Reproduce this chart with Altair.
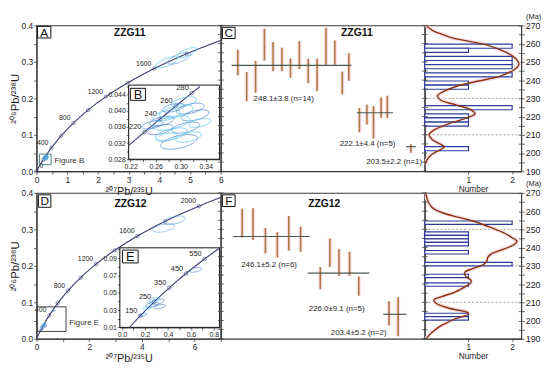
import altair as alt
import pandas as pd

FONT = "Liberation Sans"
INK = "#1e1e1e"
NAVY = "#3a3f6e"
TAN = "#b07a42"
MEANC = "#4a5950"
HISTC = "#2d3c9a"
KDEC = "#8a3410"
HALO = "#f8dde7"
COLS = {"c": "#58c6ea", "b": "#4d84cf", "l": "#6aa9e2"}

WA, WC, WH, HT = 187, 207, 98, 148
KXA = WA / 194.0
KXC = WC / 207.0
KY = HT / 154.0

# ---------------- data ----------------
# Concordia reference curve: age (Ma), 207Pb/235U, 206Pb/238U
CONC_AGE = [0, 100, 200, 300, 400, 500, 600, 700, 800, 900, 1000, 1100, 1200,
            1300, 1400, 1500, 1600, 1700, 1800, 1900, 2000, 2100, 2200]
CONC_X = [0.0, 0.10350, 0.21771, 0.34375, 0.48281, 0.63628, 0.80563, 0.99249,
          1.19873, 1.42629, 1.67740, 1.95452, 2.26030, 2.59774, 2.97008, 3.38099,
          3.83440, 4.33477, 4.88691, 5.49618, 6.16850, 6.91048, 7.72920]
CONC_Y = [0.0, 0.015633, 0.031511, 0.047637, 0.064016, 0.080650, 0.097544,
          0.114703, 0.132130, 0.149831, 0.167811, 0.186063, 0.204599, 0.223437,
          0.242563, 0.261983, 0.281724, 0.301752, 0.322096, 0.342772, 0.363770,
          0.385081, 0.406741]

# inset B segment
B_AGE = [200, 210, 220, 230, 240, 250, 260, 270, 280, 290]
B_X = [0.21771, 0.22976, 0.24193, 0.25422, 0.26664, 0.27917, 0.29183, 0.30462, 0.31753, 0.33057]
B_Y = [0.031511, 0.033113, 0.034717, 0.036323, 0.037932, 0.039543, 0.041157, 0.042773, 0.044392, 0.046014]

# inset E segment
E_AGE = [65, 100, 150, 200, 250, 300, 350, 400, 450, 500, 550, 600, 620]
E_X = [0.06611, 0.10350, 0.15920, 0.21771, 0.27917, 0.34375, 0.41156, 0.48281,
       0.55766, 0.63628, 0.71887, 0.80563, 0.84155]
E_Y = [0.010134, 0.015633, 0.023542, 0.031511, 0.039543, 0.047637, 0.055795,
       0.064016, 0.072300, 0.080650, 0.089064, 0.097544, 0.100954]

# ZZG11 analyses (ellipse centres, width in 207/235 units)
Z11_X = [0.3049, 0.3155, 0.2928, 0.3231, 0.2776, 0.2700, 0.2852, 0.2670,
         0.2852, 0.2973, 0.2776, 0.3079, 0.3306, 0.2549, 0.3125, 0.2882]
Z11_Y = [0.04219, 0.04055, 0.03984, 0.03889, 0.03889, 0.03748, 0.03701, 0.03536,
         0.03419, 0.03231, 0.03348, 0.03584, 0.03701, 0.03654, 0.03348, 0.04078]
Z11_W = [0.042, 0.045, 0.055, 0.045, 0.045, 0.040, 0.060, 0.042,
         0.052, 0.060, 0.034, 0.045, 0.036, 0.034, 0.042, 0.036]
Z11_C = ["c", "b", "c", "b", "c", "b", "c", "b", "c", "b", "c", "b", "c", "b", "c", "b"]
Z11_OX = [4.24, 4.64, 4.89]
Z11_OY = [0.299, 0.310, 0.325]
Z11_OW = [0.75, 0.80, 0.70]

# ZZG12 analyses
Z12_X = [0.2625, 0.304, 0.221, 0.329, 0.180, 0.64, 0.279]
Z12_Y = [0.0362, 0.0395, 0.0329, 0.034, 0.0245, 0.0766, 0.0417]
Z12_W = [0.12, 0.13, 0.08, 0.10, 0.07, 0.11, 0.10]
Z12_C = ["b", "b", "c", "b", "b", "b", "c"]
Z12_OX = [5.23, 4.83]
Z12_OY = [0.325, 0.304]
Z12_OW = [0.85, 0.85]

# weighted-age panels
C_I = [1.92, 2.92, 3.92, 4.92, 5.89, 6.89, 7.86, 8.86, 9.86, 10.86, 11.86, 12.86,
       13.70, 14.44, 15.63, 16.48, 17.22, 18.08, 18.78, 21.44]
C_HI = [256.6, 244.4, 250.5, 268.2, 260.9, 257.8, 251.9, 261.4, 251.7, 251.7, 268.7,
        261.8, 244.7, 254.8, 224.8, 226.5, 225.8, 230.5, 231.4, 204.8]
C_LO = [242.7, 228.4, 233.1, 250.8, 244.9, 244.9, 241.3, 246.1, 238.3, 234.0, 248.4,
        248.4, 232.2, 239.7, 211.4, 215.7, 207.9, 219.2, 219.2, 200.1]
C_MX0 = [1.22, 15.33, 20.89]
C_MX1 = [14.74, 19.41, 22.0]
C_MAGE = [248.1, 222.1, 203.5]
C_LAB = ["248.1±3.8 (n=14)", "222.1±4.4 (n=5)", "203.5±2.2 (n=1)"]
C_LX = [3.7, 13.4, 16.4]
C_LY = [229.6, 205.0, 195.3]

F_I = [2.41, 3.63, 5.03, 6.37, 7.67, 9.0, 11.22, 12.3, 13.33, 14.52, 15.56, 18.97, 20.0]
F_HI = [261.3, 261.6, 250.8, 248.5, 257.3, 251.5, 229.3, 245.0, 239.3, 237.7, 224.1, 210.6, 212.7]
F_LO = [245.5, 244.2, 236.8, 234.5, 238.4, 237.7, 217.1, 229.3, 224.6, 224.6, 213.6, 197.3, 191.4]
F_MX0 = [1.37, 9.81, 18.33]
F_MX1 = [10.0, 16.74, 20.92]
F_MAGE = [246.1, 226.0, 203.4]
F_LAB = ["246.1±5.2 (n=6)", "226.0±9.1 (n=5)", "203.4±5.2 (n=2)"]
F_LX = [2.3, 9.92, 12.4]
F_LY = [230.2, 206.2, 193.2]

# histograms (bin low, bin high, count) and probability curves
H1_LO = [257.5, 255.25, 250.75, 248.5, 246.25, 241.75, 237.25, 235.0, 223.75, 219.25, 217.0, 214.75, 201.25]
H1_HI = [259.75, 257.5, 253.0, 250.75, 248.5, 244.0, 239.5, 237.25, 226.0, 221.5, 219.25, 217.0, 203.5]
H1_N = [2, 1, 2, 2, 2, 2, 1, 1, 2, 1, 1, 1, 1]
K1_AGE = [270.5, 268.6, 266.7, 265.1, 263.2, 261.7, 259.1, 255.6, 253.0, 250.4, 248.2, 245.7,
          243.9, 241.8, 239.5, 236.9, 233.4, 231.4, 229.1, 226.5, 223.9, 221.5, 219.6, 216.1,
          212.6, 210.0, 207.4, 204.8, 203.3, 201.4, 198.8, 196.2, 193.5]
K1_VAL = [0.02, 0.10, 0.22, 0.40, 0.62, 0.93, 1.45, 1.83, 2.02, 2.13, 2.15, 2.05,
          1.90, 1.67, 1.23, 0.77, 0.40, 0.29, 0.36, 0.70, 1.04, 1.15, 1.00, 0.55,
          0.21, 0.10, 0.17, 0.36, 0.45, 0.32, 0.14, 0.05, 0.0]
D1 = [230, 210]

H2_LO = [252.7, 246.7, 244.8, 242.9, 241.0, 236.5, 230.0, 223.5, 218.8, 202.1, 200.2]
H2_HI = [254.6, 248.6, 246.7, 244.8, 242.9, 238.4, 231.9, 225.4, 220.7, 204.0, 202.1]
H2_N = [2, 1, 1, 1, 1, 1, 2, 1, 1, 1, 1]
K2_AGE = [270.4, 267.0, 264.2, 262.0, 260.7, 259.0, 257.3, 254.6, 251.1, 247.6, 245.0, 243.6,
          241.6, 238.9, 236.3, 234.5, 232.5, 230.5, 228.5, 226.5, 224.5, 222.0, 220.6, 218.5,
          215.5, 213.6, 212.0, 211.3, 209.5, 206.6, 204.4, 203.5, 202.3, 200.5, 198.8, 196.5,
          194.4, 192.0, 190.0]
K2_VAL = [0.02, 0.05, 0.10, 0.17, 0.25, 0.42, 0.66, 1.10, 1.51, 1.85, 2.03, 2.11,
          2.04, 1.77, 1.51, 1.44, 1.42, 1.33, 1.10, 0.92, 0.93, 1.06, 1.05, 0.92,
          0.68, 0.45, 0.25, 0.21, 0.26, 0.58, 0.98, 1.00, 0.88, 0.65, 0.51, 0.33,
          0.21, 0.10, 0.04]
D2 = [250, 230, 210]

AGE_TICKS = list(range(190, 271, 5))

# ---------------- helpers ----------------
ELL = ("M -1 0 C -1 -0.182 -0.552 -0.33 0 -0.33 C 0.552 -0.33 1 -0.182 1 0 "
       "C 1 0.182 0.552 0.33 0 0.33 C -0.552 0.33 -1 0.182 -1 0 Z")


def one():
    return alt.Chart(pd.DataFrame({"k": [0]}))


def letter_box(x0, y0, x1, y1, ch, fs=12):
    r = one().mark_rect(fill="white", stroke="#111111", strokeWidth=1).encode(
        x=alt.value(x0), x2=alt.value(x1), y=alt.value(y0), y2=alt.value(y1))
    t = one().mark_text(text=ch, fontSize=fs, font=FONT, color="#111111",
                        align="center", baseline="middle").encode(
        x=alt.value((x0 + x1) / 2), y=alt.value((y0 + y1) / 2 + 0.5))
    return [r, t]


def title_text(x, y, s):
    return one().mark_text(text=s, fontSize=10.5, fontWeight="bold", font=FONT,
                           color="#111111", align="center", baseline="middle").encode(
        x=alt.value(x), y=alt.value(y))


def conc_df(ages, xs, ys):
    return pd.DataFrame({"age": ages, "x": xs, "y": ys})


def ell_df(xs, ys, ws, cs, ppu, minw=0):
    return pd.DataFrame({"x": xs, "y": ys,
                         "sz": [max(w * ppu, minw) ** 2 for w in ws],
                         "col": [COLS[c] for c in cs]})


class Frame:
    """x / y scale + axis pair shared by all layers of one plot frame."""

    def __init__(self, xsc, ysc, xax, yax):
        self.xsc, self.ysc, self.xax, self.yax = xsc, ysc, xax, yax

    def x(self, f):
        return alt.X(f, scale=self.xsc, axis=self.xax)

    def y(self, f):
        return alt.Y(f, scale=self.ysc, axis=self.yax)


def curve_layers(df, fr, mark_ages, lab_ages, csize, lfs):
    line = alt.Chart(df).mark_line(color=NAVY, strokeWidth=1.1, clip=True,
                                   interpolate="monotone").encode(
        x=fr.x("x:Q"), y=fr.y("y:Q"))
    pts = alt.Chart(df[df.age.isin(mark_ages)]).mark_point(
        shape="circle", size=csize, filled=False, color=NAVY, strokeWidth=0.8).encode(
        x=fr.x("x:Q"), y=fr.y("y:Q"))
    labs = alt.Chart(df[df.age.isin(lab_ages)]).mark_text(
        align="right", baseline="middle", dx=-3, dy=-5, fontSize=lfs, font=FONT,
        color=INK).encode(x=fr.x("x:Q"), y=fr.y("y:Q"), text=alt.Text("age:Q"))
    return [line, pts, labs]


def ell_layer(df, fr, angle, sw=0.9):
    return alt.Chart(df).mark_point(shape=ELL, angle=angle, filled=False,
                                    strokeWidth=sw).encode(
        x=fr.x("x:Q"), y=fr.y("y:Q"),
        size=alt.Size("sz:Q", scale=None, legend=None),
        color=alt.Color("col:N", scale=None, legend=None))


def main_axes(xvals, xexpr):
    xax = alt.Axis(values=xvals, labelExpr=xexpr, title="²⁰⁷Pb/²³⁵U", tickSize=3,
                   labelPadding=1, labelFontSize=8.5, titleFontSize=11, titlePadding=2,
                   titleFontWeight="normal", labelFlush=False, grid=False)
    yax = alt.Axis(values=[0, 0.05, 0.1, 0.15, 0.2, 0.25, 0.3, 0.35, 0.4],
                   labelExpr="round(datum.value * 20) % 2 === 0 ? format(datum.value, '.1f') : ''",
                   title="²⁰⁶Pb/²³⁸U", tickSize=3, labelPadding=1, labelFontSize=8.5,
                   titleFontSize=11.5, titlePadding=1, titleFontWeight="normal",
                   labelFlush=False, grid=False)
    return xax, yax


def inset_axes(xvals, xexpr, yvals, yexpr, bx0, by1):
    xax = alt.Axis(values=xvals, labelExpr=xexpr, orient="bottom", offset=by1 - HT,
                   tickSize=2.5, labelPadding=1, labelFontSize=7, title=None,
                   labelFlush=False, grid=False, domainColor="#111111")
    yax = alt.Axis(values=yvals, labelExpr=yexpr, orient="left", offset=-bx0,
                   tickSize=2.5, labelPadding=1, labelFontSize=7, title=None,
                   labelFlush=False, grid=False, domainColor="#111111")
    return xax, yax


def conc_panel(xmax, xvals, xexpr, mark_ages, lab_ages, zero_lab,
               clus, old, old_angle, figbox, figtxt, figcol,
               inset, letter, title):
    xax, yax = main_axes(xvals, xexpr)
    fr = Frame(alt.Scale(domain=[0, xmax], nice=False, zero=False),
               alt.Scale(domain=[0, 0.4], nice=False, zero=False), xax, yax)
    cdf = conc_df(CONC_AGE, CONC_X, CONC_Y)
    ppu = WA / xmax
    layers = curve_layers(cdf, fr, mark_ages, lab_ages, 12, 7)
    if zero_lab:
        layers.append(alt.Chart(cdf[cdf.age == 0]).mark_text(
            align="left", baseline="middle", dx=3, dy=-5, fontSize=7, font=FONT,
            color=INK).encode(x=fr.x("x:Q"), y=fr.y("y:Q"), text=alt.Text("age:Q")))
    layers.append(ell_layer(ell_df(*clus, ppu, minw=4), fr, 345))
    layers.append(ell_layer(ell_df(*old, ppu), fr, old_angle))
    fb = pd.DataFrame({"x0": [figbox[0]], "x1": [figbox[1]], "y0": [figbox[2]], "y1": [figbox[3]]})
    layers.append(alt.Chart(fb).mark_rect(fillOpacity=0, stroke=figcol, strokeWidth=1).encode(
        x=fr.x("x0:Q"), x2="x1:Q", y=fr.y("y0:Q"), y2="y1:Q"))
    ft = pd.DataFrame({"x": [figtxt[0]], "y": [figtxt[1]], "t": [figtxt[2]]})
    layers.append(alt.Chart(ft).mark_text(align="left", baseline="middle", fontSize=8,
                                          font=FONT, color="#333333").encode(
        x=fr.x("x:Q"), y=fr.y("y:Q"), text="t:N"))
    layers += letter_box(*letter)
    layers.append(title_text(*title))
    main = alt.layer(*layers)

    # inset
    (seg, xdom, ydom, bx, by, ixv, ixe, iyv, iye, imarks, ilabs, iclus, iletter) = inset
    ixax, iyax = inset_axes(ixv, ixe, iyv, iye, bx[0], by[1])
    ifr = Frame(alt.Scale(domain=xdom, range=[bx[0], bx[1]], nice=False, zero=False),
                alt.Scale(domain=ydom, range=[by[1], by[0]], nice=False, zero=False),
                ixax, iyax)
    box = pd.DataFrame({"x0": [xdom[0]], "x1": [xdom[1]], "y0": [ydom[0]], "y1": [ydom[1]]})
    ilayers = [alt.Chart(box).mark_rect(fill="white", stroke="#111111", strokeWidth=1).encode(
        x=ifr.x("x0:Q"), x2="x1:Q", y=ifr.y("y0:Q"), y2="y1:Q")]
    ilayers += curve_layers(seg, ifr, imarks, ilabs, 14, 7.5)
    ippu = (bx[1] - bx[0]) / (xdom[1] - xdom[0])
    ilayers.append(ell_layer(ell_df(*iclus, ippu), ifr, 347))
    ilayers += letter_box(*iletter, fs=13)
    ins = alt.layer(*ilayers)
    return alt.layer(main, ins).resolve_scale(x="independent", y="independent").properties(
        width=WA, height=HT)


def edge_ticks(ysc, yax):
    return alt.Chart(pd.DataFrame({"age": AGE_TICKS})).mark_rule(
        color="#444444", strokeWidth=0.8).encode(
        y=alt.Y("age:Q", scale=ysc, axis=yax), x=alt.value(-3), x2=alt.value(3))


def age_panel(ii, hi, lo, mx0, mx1, mage, lab, lx, ly, letter, title):
    fr = Frame(alt.Scale(domain=[0, 23], nice=False, zero=False),
               alt.Scale(domain=[190, 270], nice=False, zero=False), None, None)
    bdf = pd.DataFrame({"i": ii, "lo": lo, "hi": hi})
    halo = alt.Chart(bdf).mark_rule(color=HALO, strokeWidth=4).encode(
        x=fr.x("i:Q"), y=fr.y("lo:Q"), y2="hi:Q")
    bars = alt.Chart(bdf).mark_rule(color=TAN, strokeWidth=1.6).encode(
        x=fr.x("i:Q"), y=fr.y("lo:Q"), y2="hi:Q")
    mdf = pd.DataFrame({"x0": mx0, "x1": mx1, "age": mage})
    means = alt.Chart(mdf).mark_rule(color=MEANC, strokeWidth=1.2).encode(
        x=fr.x("x0:Q"), x2="x1:Q", y=fr.y("age:Q"))
    ldf = pd.DataFrame({"t": lab, "x": lx, "y": ly})
    labs = alt.Chart(ldf).mark_text(align="left", baseline="middle", fontSize=8, font=FONT,
                                    color=INK).encode(x=fr.x("x:Q"), y=fr.y("y:Q"), text="t:N")
    layers = [halo, bars, means, labs, edge_ticks(fr.ysc, None)] + letter_box(*letter) + [
        title_text(*title)]
    return alt.layer(*layers).properties(width=WC, height=HT)


def hist_panel(lo, hi, n, kage, kval, dashed):
    xax = alt.Axis(values=[1, 2], format="d", title="Number", tickSize=3, labelPadding=1,
                   labelFontSize=8.5, titleFontSize=8.5, titleFontWeight="normal",
                   titlePadding=1, labelFlush=False, grid=False)
    rax = alt.Axis(orient="right", values=AGE_TICKS,
                   labelExpr="datum.value % 10 === 0 ? '' + datum.value : ''",
                   tickSize=6, offset=-3, domain=False, labelPadding=1, labelFontSize=9,
                   title="(Ma)", titleAngle=0, titleX=15, titleY=-7.5, titleAlign="center",
                   titleBaseline="alphabetic", titleFontSize=7.5, titleFontWeight="normal",
                   grid=False)
    fr = Frame(alt.Scale(domain=[0, 2.21], nice=False, zero=False),
               alt.Scale(domain=[190, 270], nice=False, zero=False), xax, rax)
    dash = alt.Chart(pd.DataFrame({"age": dashed})).mark_rule(
        strokeDash=[2, 2], color="#8a8a8a", strokeWidth=0.8).encode(y=fr.y("age:Q"))
    hdf = pd.DataFrame({"lo": lo, "hi": hi, "n": n, "z": [0] * len(n)})
    bars = alt.Chart(hdf).mark_rect(fill="white", stroke=HISTC, strokeWidth=1.2).encode(
        x=fr.x("z:Q"), x2="n:Q", y=fr.y("lo:Q"), y2="hi:Q")
    kdf = pd.DataFrame({"age": kage, "v": kval})
    halo = alt.Chart(kdf).mark_line(color=HALO, strokeWidth=4, clip=True,
                                    interpolate="catmull-rom").encode(
        x=fr.x("v:Q"), y=fr.y("age:Q"), order=alt.Order("age:Q"))
    kde = alt.Chart(kdf).mark_line(color=KDEC, strokeWidth=1.4, clip=True,
                                   interpolate="catmull-rom").encode(
        x=fr.x("v:Q"), y=fr.y("age:Q"), order=alt.Order("age:Q"))
    return alt.layer(dash, halo, bars, kde, edge_ticks(fr.ysc, rax)).properties(
        width=WH, height=HT)


# ---------------- panels ----------------
bxA = [97 * KXA, 192.7 * KXA]
byA = [63 * KY, 141.3 * KY]
insetB = (conc_df(B_AGE, B_X, B_Y), [0.217, 0.362], [0.028, 0.0464], bxA, byA,
          [0.22, 0.24, 0.26, 0.28, 0.30, 0.32, 0.34],
          "round(datum.value * 100) % 4 === 2 ? format(datum.value, '.2f') : ''",
          [0.028, 0.030, 0.032, 0.034, 0.036, 0.038, 0.040, 0.042, 0.044, 0.046],
          "round(datum.value * 1000) % 4 === 0 ? format(datum.value, '.3f') : ''",
          [220, 240, 260, 280], [220, 240, 260, 280],
          (Z11_X, Z11_Y, Z11_W, Z11_C),
          (bxA[0] + 1.7, byA[0] + 3.3, bxA[0] + 17.0, byA[0] + 15.5, "B"))
panelA = conc_panel(6, [0, 0.5, 1, 1.5, 2, 2.5, 3, 3.5, 4, 4.5, 5, 5.5, 6],
                    "datum.value % 1 === 0 ? format(datum.value, 'd') : ''",
                    [0, 200, 400, 600, 800, 1000, 1200, 1400, 1600, 1800],
                    [400, 800, 1200, 1600], True,
                    (Z11_X, Z11_Y, [0.12] * len(Z11_X), Z11_C),
                    (Z11_OX, Z11_OY, Z11_OW, ["c", "l", "c"]), 338,
                    (0.093, 0.473, 0.018, 0.047), (0.58, 0.028, "Figure B"), "#4f7f80",
                    insetB, (1, 1, 14.5, 12.7, "A"), (0.505 * WA, 8 * KY, "ZZG11"))

bxD = [87.7 * KXA, 192.7 * KXA]
byD = [58 * KY, 142 * KY]
insetE = (conc_df(E_AGE, E_X, E_Y), [-0.02, 0.85], [0.01, 0.102], bxD, byD,
          [0.0, 0.1, 0.2, 0.3, 0.4, 0.5, 0.6, 0.7, 0.8],
          "round(datum.value * 10) % 2 === 0 ? format(datum.value, '.1f') : ''",
          [0.01, 0.02, 0.03, 0.04, 0.05, 0.06, 0.07, 0.08, 0.09, 0.10],
          "round(datum.value * 100) % 2 === 1 ? format(datum.value, '.2f') : ''",
          [150, 250, 350, 450, 550], [150, 250, 350, 450, 550],
          (Z12_X, Z12_Y, Z12_W, Z12_C),
          (bxD[0] + 2.6, byD[0] + 2.3, bxD[0] + 18.5, byD[0] + 15.3, "E"))
panelD = conc_panel(7, [0, 1, 2, 3, 4, 5, 6, 7],
                    "datum.value % 2 === 0 ? format(datum.value, 'd') : ''",
                    [200, 400, 600, 800, 1000, 1200, 1400, 1600, 1800, 2000],
                    [400, 800, 1200, 1600, 2000], False,
                    (Z12_X, Z12_Y, [0.12] * len(Z12_X), Z12_C),
                    (Z12_OX, Z12_OY, Z12_OW, ["l", "l"]), 348,
                    (0.01, 1.12, 0.02, 0.0875), (1.24, 0.044, "Figure E"), "#444444",
                    insetE, (1.9, 1.9, 14.5, 14.6, "D"), (0.51 * WA, 12 * KY, "ZZG12"))

panelC = age_panel(C_I, C_HI, C_LO, C_MX0, C_MX1, C_MAGE, C_LAB, C_LX, C_LY,
                   (1.6, 1.9, 14.5, 13.3, "C"), (0.667 * WC, 8 * KY, "ZZG11"))
panelF = age_panel(F_I, F_HI, F_LO, F_MX0, F_MX1, F_MAGE, F_LAB, F_LX, F_LY,
                   (1.6, 1.9, 14.5, 13.8, "F"), (0.507 * WC, 12 * KY, "ZZG12"))

panelH1 = hist_panel(H1_LO, H1_HI, H1_N, K1_AGE, K1_VAL, D1)
panelH2 = hist_panel(H2_LO, H2_HI, H2_N, K2_AGE, K2_VAL, D2)

chart = alt.concat(panelA, panelC, panelH1, panelD, panelF, panelH2, columns=3,
                   spacing={"row": 22, "column": 0}, bounds="flush").properties(
    padding=0
).configure_view(stroke="#3a3a3a", strokeWidth=1.2).configure_axis(
    labelFont=FONT, titleFont=FONT, labelColor=INK, titleColor=INK,
    tickColor="#444444", domainColor="#3a3a3a", tickWidth=0.8
).configure_text(font=FONT)

chart.save("out.html", embed_options={"renderer": "svg", "actions": False})
